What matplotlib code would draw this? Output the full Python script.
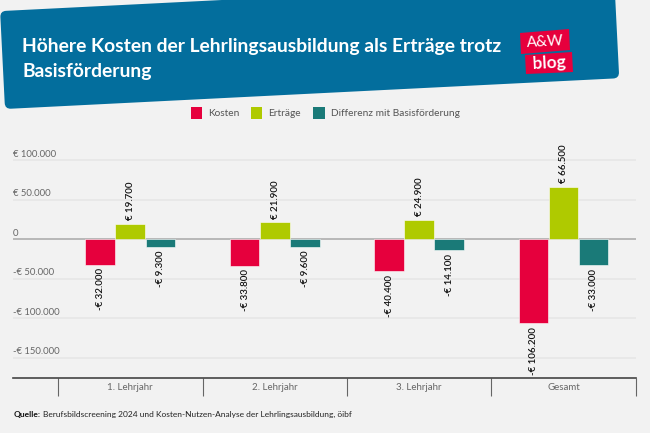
import numpy as np
import matplotlib
matplotlib.use("Agg")
import matplotlib.pyplot as plt
from matplotlib.patches import FancyBboxPatch, Polygon, Patch
from matplotlib.transforms import Affine2D

categories = ["1. Lehrjahr", "2. Lehrjahr", "3. Lehrjahr", "Gesamt"]
kosten = [-32000, -33800, -40400, -106200]
ertraege = [19700, 21900, 24900, 66500]
differenz = [-9300, -9600, -14100, -33000]
series_names = ["Kosten", "Erträge", "Differenz mit Basisförderung"]
y_ticks = [100000, 50000, 0, -50000, -100000, -150000]
title = "Höhere Kosten der Lehrlingsausbildung als Erträge trotz\nBasisförderung"
source = "Berufsbildscreening 2024 und Kosten-Nutzen-Analyse der Lehrlingsausbildung, öibf"

BG = "#f2f2f2"
COLORS = ["#e6003d", "#afca00", "#1a7a78"]
W, H = 650, 433

plt.rcParams["font.family"] = "Lato"


def euro(v):
    # 19700 -> "€ 19.700", negative with the sign in front
    s = f"{abs(v):,}".replace(",", ".")
    if v == 0:
        return "0"
    return ("-€ " if v < 0 else "€ ") + s


fig = plt.figure(figsize=(W / 100, H / 100), dpi=100, facecolor=BG)

# pixel canvas for banner, logo
bg = fig.add_axes([0, 0, 1, 1], zorder=0)
bg.set_xlim(0, W)
bg.set_ylim(H, 0)
bg.axis("off")

rot = Affine2D().rotate_deg_around(5, 109, -2.87) + bg.transData
bg.add_patch(FancyBboxPatch((10, 16), 605, 88, boxstyle="round,pad=5,rounding_size=6",
                            fc="#036e9d", ec="none", transform=rot))
bg.text(22, 59, title, color="white", fontsize=13.9, fontweight="bold",
        va="center", ha="left", linespacing=1.55)

# logo
bg.add_patch(Polygon([(520, 33), (569, 29), (570, 50), (521, 54)], fc="#e6003d", ec="none"))
bg.add_patch(Polygon([(525, 55), (572, 52), (573, 72), (526, 74)], fc="#e6003d", ec="none"))
bg.text(545, 42, "A&W", color="white", fontsize=11, ha="center", va="center", rotation=3)
bg.text(549, 63.5, "blog", color="white", fontsize=12.5, fontweight="bold",
        ha="center", va="center", rotation=3)

q = bg.text(14, 418, "Quelle:", color="#111111", fontsize=6, fontweight="bold", va="bottom")
bg.annotate(source, xy=(1, 0), xycoords=q, xytext=(1.2, 0), textcoords="offset points",
            color="#222222", fontsize=6, va="bottom")

# chart axes, scale: 39.5 px for 50.000
left, right = 13, 635.7
y_top, y_bot = 138000, -175000
px_zero = 239.3
px_per = 39.5 / 50000
top_px = px_zero - y_top * px_per
bot_px = px_zero - y_bot * px_per
ax = fig.add_axes([left / W, 1 - bot_px / H, (right - left) / W, (bot_px - top_px) / H], zorder=1)
ax.patch.set_alpha(0)

x = np.arange(len(categories))
step = 0.2078
bar_w = 0.205
for i, vals in enumerate([kosten, ertraege, differenz]):
    pos = x + (i - 1) * step
    ax.bar(pos, vals, bar_w, color=COLORS[i], edgecolor="white", linewidth=0.4, zorder=3,
           label=series_names[i])
    for p, v in zip(pos, vals):
        ax.annotate(euro(v), (p, v), xytext=(0.3, 2.5 if v > 0 else -2.5), textcoords="offset points",
                    rotation=90, ha="center", va="bottom" if v > 0 else "top",
                    fontsize=7, fontweight="semibold", color="#111111", zorder=4)

ax.set_xlim((left - 130.3) / 144.4, (right - 130.3) / 144.4)
ax.set_ylim(y_bot, y_top)

for v in y_ticks:
    ax.axhline(v, color="#a8a8a8" if v == 0 else "#e6e6e6", lw=1.1, zorder=2 if v else 1)
    ax.annotate(euro(v), (0, v), xycoords=("axes fraction", "data"), xytext=(0, 1),
                textcoords="offset points", ha="left", va="bottom", fontsize=6.8, color="#666666")

for s in ["top", "left", "right"]:
    ax.spines[s].set_visible(False)
ax.spines["bottom"].set_color("#444444")
ax.spines["bottom"].set_linewidth(1.2)
ax.set_yticks([])
ax.set_xticks(x)
ax.set_xticklabels(categories, fontsize=7, color="#666666")
ax.tick_params(axis="x", which="major", length=0, pad=4)
ax.set_xticks(np.arange(len(categories) + 1) - 0.5, minor=True)
ax.tick_params(axis="x", which="minor", length=12.8, width=0.8, color="#666666")

handles = [Patch(fc=c, ec="none") for c in COLORS]
fig.legend(handles, series_names, loc="center", bbox_to_anchor=(325 / W, 1 - 113 / H), ncol=3,
           frameon=False, fontsize=7.3, labelcolor="#555555", handlelength=1.1, handleheight=1.5,
           handletextpad=0.6, columnspacing=1.2)

fig.savefig("out.png", dpi=100, facecolor=BG)
